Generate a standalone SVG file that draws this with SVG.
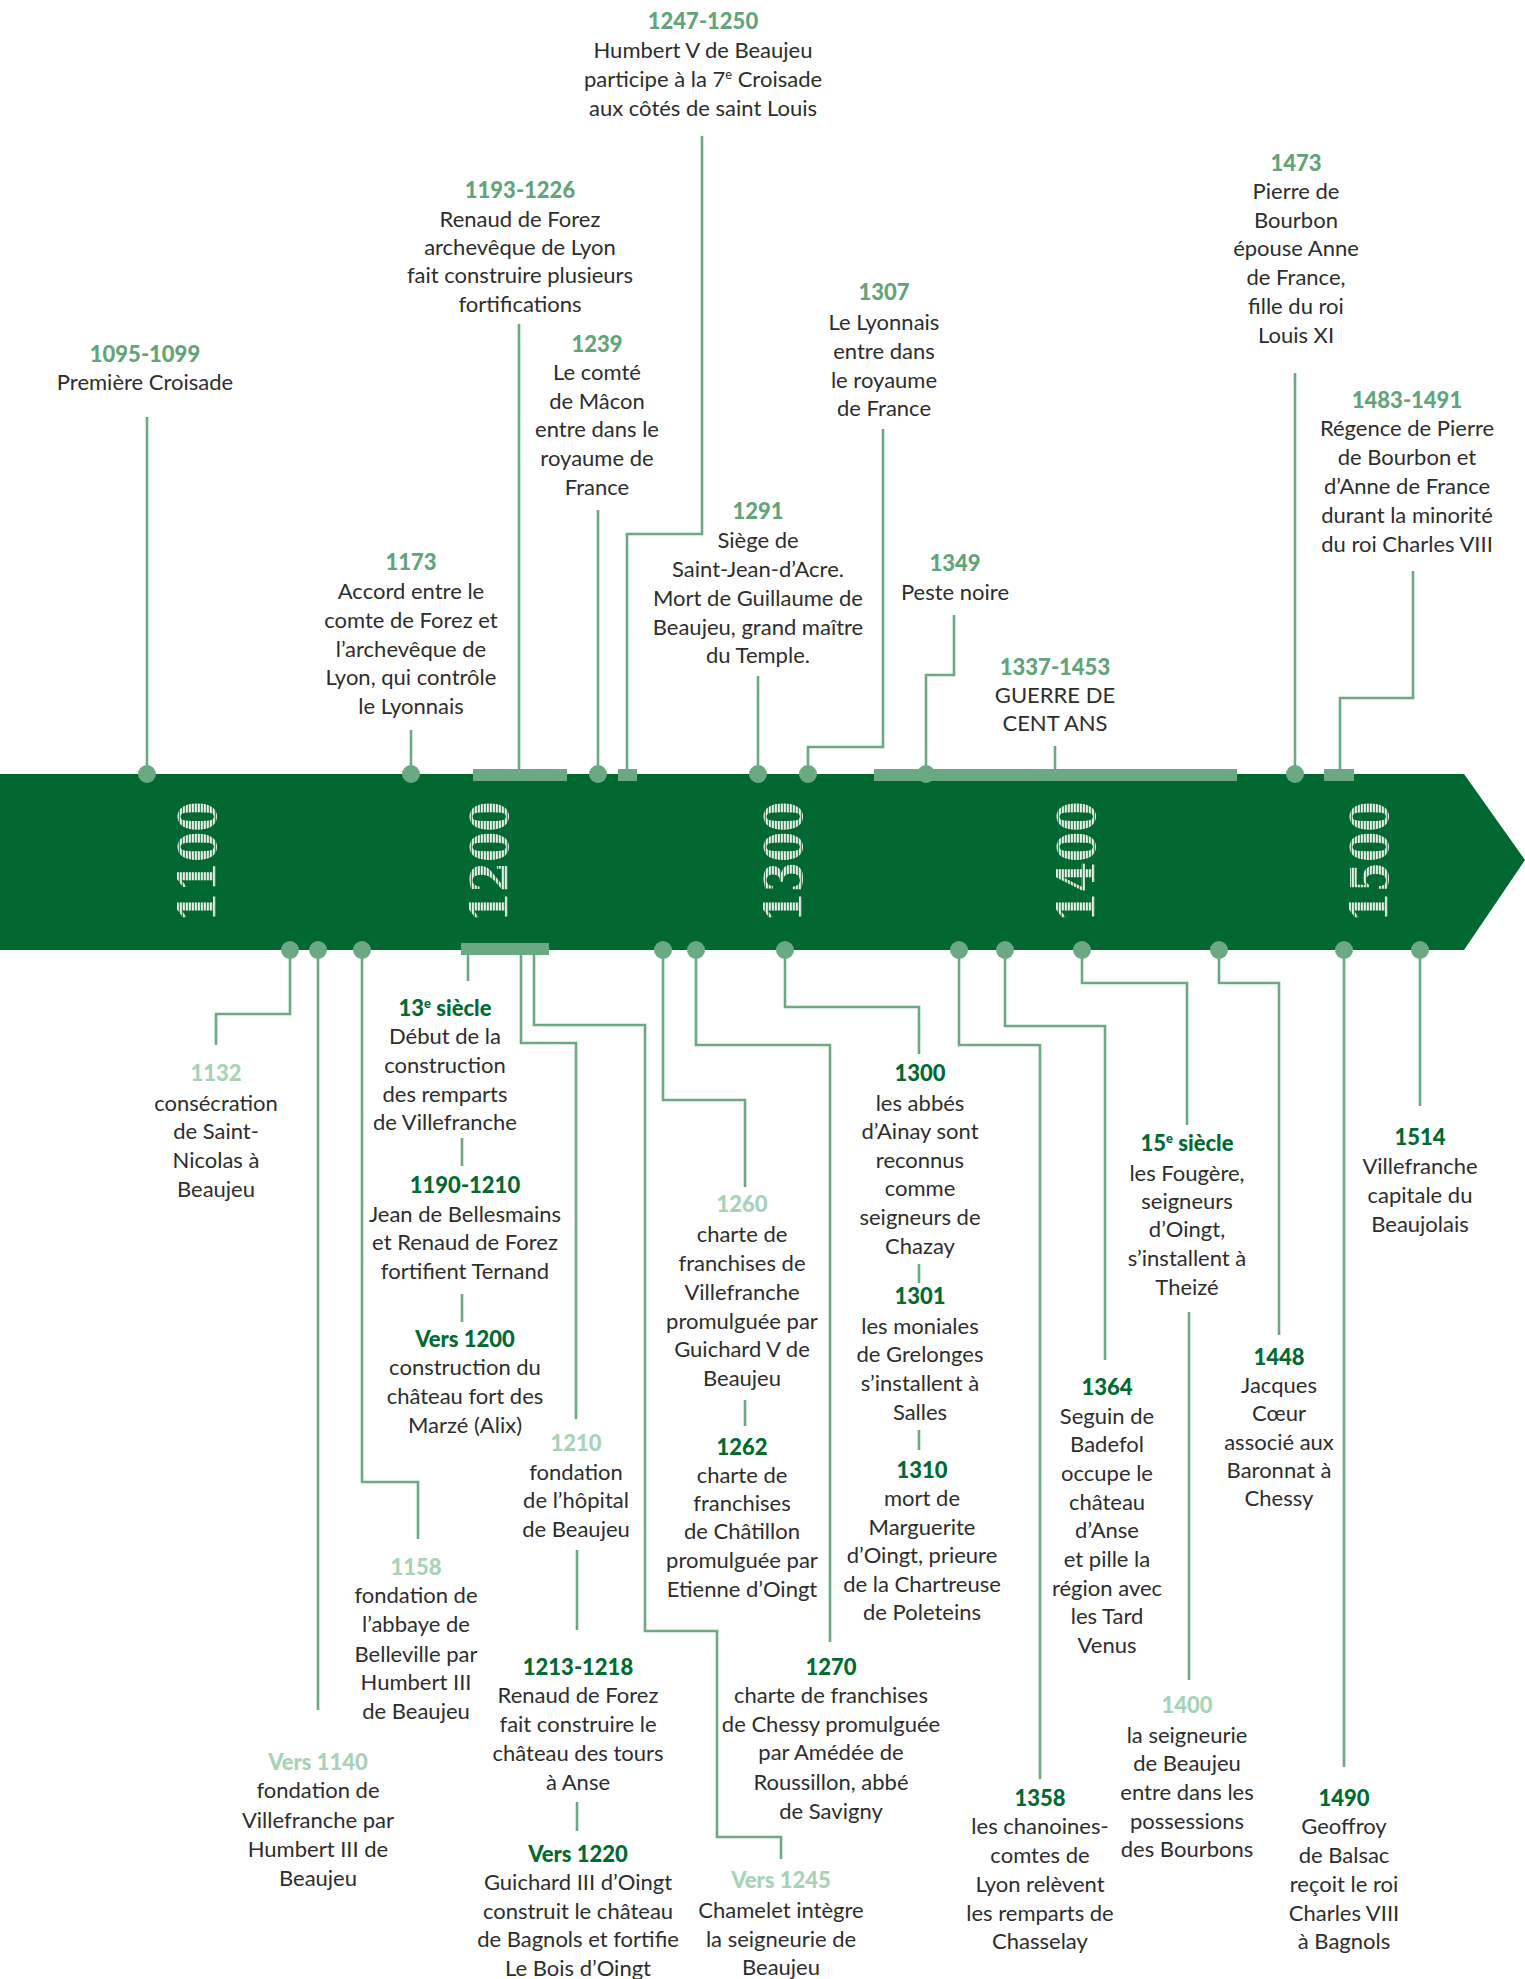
<svg xmlns="http://www.w3.org/2000/svg" width="1525" height="1979" viewBox="0 0 1525 1979">
<defs>
<pattern id="hatch" width="3" height="3" patternUnits="userSpaceOnUse"><rect width="3" height="3" fill="#e9f1eb"/><rect y="1.8" width="3" height="1.2" fill="#3f8a5c"/></pattern>
<style>
.t{font-family:Lato,"Source Sans Pro","Liberation Sans",sans-serif;font-size:22px;fill:#2d2d2d;text-anchor:middle}
.yu{font-weight:900;fill:#62a47a}
.yd{font-weight:900;fill:#006a31}
.yl{font-weight:900;fill:#a8d2b6}
.sup{font-size:13px}
.ln{fill:none;stroke:#6aa982;stroke-width:2.6}
.dot{fill:#6aa982}
.bar{fill:#6aa982}
.cent{font-family:"DejaVu Serif","Liberation Serif",serif;font-weight:bold;font-size:53px;fill:url(#hatch);text-anchor:middle}
</style>
</defs>
<rect width="1525" height="1979" fill="#ffffff"/>
<g id="band">
<polygon points="0,774 1464,774 1525,860 1464,950 0,950" fill="#006830"/>
<text class="cent" transform="translate(216,862) rotate(-90)" textLength="121" lengthAdjust="spacingAndGlyphs">1100</text>
<text class="cent" transform="translate(508,862) rotate(-90)" textLength="121" lengthAdjust="spacingAndGlyphs">1200</text>
<text class="cent" transform="translate(802,862) rotate(-90)" textLength="121" lengthAdjust="spacingAndGlyphs">1300</text>
<text class="cent" transform="translate(1095,862) rotate(-90)" textLength="121" lengthAdjust="spacingAndGlyphs">1400</text>
<text class="cent" transform="translate(1388,862) rotate(-90)" textLength="121" lengthAdjust="spacingAndGlyphs">1500</text>
</g>
<g id="connectors">
<path class="ln" d="M147 417V774"/>
<path class="ln" d="M411 730V774"/>
<path class="ln" d="M519 324V770"/>
<path class="ln" d="M598 510V774"/>
<path class="ln" d="M702 136V534H627V770"/>
<path class="ln" d="M758 676V774"/>
<path class="ln" d="M883 429V747H808V774"/>
<path class="ln" d="M954 615V675H926V774"/>
<path class="ln" d="M1055 746V770"/>
<path class="ln" d="M1295 373V774"/>
<path class="ln" d="M1413 571V698H1340V770"/>
<path class="ln" d="M290 950V1014H216V1045"/>
<path class="ln" d="M318 950V1710"/>
<path class="ln" d="M362 950V1482H418V1539"/>
<path class="ln" d="M468 954V981"/>
<path class="ln" d="M462 1138V1166"/>
<path class="ln" d="M462 1294V1322"/>
<path class="ln" d="M521 954V1043H576V1419"/>
<path class="ln" d="M577 1550V1630"/>
<path class="ln" d="M577 1802V1831"/>
<path class="ln" d="M534 954V1025H645V1631H717V1837H781V1859"/>
<path class="ln" d="M663 950V1100H745V1187"/>
<path class="ln" d="M745 1400V1426"/>
<path class="ln" d="M696 950V1045H830V1642"/>
<path class="ln" d="M785 950V1007H919V1054"/>
<path class="ln" d="M919 1264V1283"/>
<path class="ln" d="M919 1430V1450"/>
<path class="ln" d="M959 950V1045H1040V1779"/>
<path class="ln" d="M1005 950V1026H1105V1360"/>
<path class="ln" d="M1082 950V983H1187V1125"/>
<path class="ln" d="M1189 1312V1680"/>
<path class="ln" d="M1219 950V983H1279V1335"/>
<path class="ln" d="M1344 950V1767"/>
<path class="ln" d="M1420 950V1106"/>
</g>
<g id="markers">
<rect class="bar" x="473" y="769" width="94" height="12"/>
<rect class="bar" x="618" y="769" width="19" height="12"/>
<rect class="bar" x="874" y="769" width="363" height="12"/>
<rect class="bar" x="1324" y="769" width="30" height="12"/>
<rect class="bar" x="461" y="943" width="88" height="12"/>
<circle class="dot" cx="147" cy="774" r="9"/>
<circle class="dot" cx="411" cy="774" r="9"/>
<circle class="dot" cx="598" cy="774" r="9"/>
<circle class="dot" cx="758" cy="774" r="9"/>
<circle class="dot" cx="808" cy="774" r="9"/>
<circle class="dot" cx="926" cy="774" r="9"/>
<circle class="dot" cx="1295" cy="774" r="9"/>
<circle class="dot" cx="290" cy="950" r="9"/>
<circle class="dot" cx="318" cy="950" r="9"/>
<circle class="dot" cx="362" cy="950" r="9"/>
<circle class="dot" cx="663" cy="950" r="9"/>
<circle class="dot" cx="696" cy="950" r="9"/>
<circle class="dot" cx="785" cy="950" r="9"/>
<circle class="dot" cx="959" cy="950" r="9"/>
<circle class="dot" cx="1005" cy="950" r="9"/>
<circle class="dot" cx="1082" cy="950" r="9"/>
<circle class="dot" cx="1219" cy="950" r="9"/>
<circle class="dot" cx="1344" cy="950" r="9"/>
<circle class="dot" cx="1420" cy="950" r="9"/>
</g>
<g id="e1095"><text class="t"><tspan class="yu" x="145" y="362">1095-1099</tspan><tspan x="145" y="390">Première Croisade</tspan></text></g>
<g id="e1173"><text class="t"><tspan class="yu" x="411" y="570">1173</tspan><tspan x="411" y="599">Accord entre le</tspan><tspan x="411" y="628">comte de Forez et</tspan><tspan x="411" y="657">l’archevêque de</tspan><tspan x="411" y="685">Lyon, qui contrôle</tspan><tspan x="411" y="714">le Lyonnais</tspan></text></g>
<g id="e1193"><text class="t"><tspan class="yu" x="520" y="198">1193-1226</tspan><tspan x="520" y="227">Renaud de Forez</tspan><tspan x="520" y="255">archevêque de Lyon</tspan><tspan x="520" y="283">fait construire plusieurs</tspan><tspan x="520" y="312">fortifications</tspan></text></g>
<g id="e1239"><text class="t"><tspan class="yu" x="597" y="352">1239</tspan><tspan x="597" y="380">Le comté</tspan><tspan x="597" y="409">de Mâcon</tspan><tspan x="597" y="437">entre dans le</tspan><tspan x="597" y="466">royaume de</tspan><tspan x="597" y="495">France</tspan></text></g>
<g id="e1247"><text class="t"><tspan class="yu" x="703" y="29">1247-1250</tspan><tspan x="703" y="58">Humbert V de Beaujeu</tspan><tspan x="703" y="87">participe à la 7<tspan class="sup" dy="-8">e</tspan><tspan dy="8"> Croisade</tspan></tspan><tspan x="703" y="116">aux côtés de saint Louis</tspan></text></g>
<g id="e1291"><text class="t"><tspan class="yu" x="758" y="519">1291</tspan><tspan x="758" y="548">Siège de</tspan><tspan x="758" y="577">Saint-Jean-d’Acre.</tspan><tspan x="758" y="606">Mort de Guillaume de</tspan><tspan x="758" y="635">Beaujeu, grand maître</tspan><tspan x="758" y="663">du Temple.</tspan></text></g>
<g id="e1307"><text class="t"><tspan class="yu" x="884" y="300">1307</tspan><tspan x="884" y="330">Le Lyonnais</tspan><tspan x="884" y="359">entre dans</tspan><tspan x="884" y="388">le royaume</tspan><tspan x="884" y="416">de France</tspan></text></g>
<g id="e1349"><text class="t"><tspan class="yu" x="955" y="571">1349</tspan><tspan x="955" y="600">Peste noire</tspan></text></g>
<g id="e1337"><text class="t"><tspan class="yu" x="1055" y="675">1337-1453</tspan><tspan x="1055" y="703">GUERRE DE</tspan><tspan x="1055" y="731">CENT ANS</tspan></text></g>
<g id="e1473"><text class="t"><tspan class="yu" x="1296" y="171">1473</tspan><tspan x="1296" y="199">Pierre de</tspan><tspan x="1296" y="228">Bourbon</tspan><tspan x="1296" y="256">épouse Anne</tspan><tspan x="1296" y="285">de France,</tspan><tspan x="1296" y="314">fille du roi</tspan><tspan x="1296" y="343">Louis XI</tspan></text></g>
<g id="e1483"><text class="t"><tspan class="yu" x="1407" y="408">1483-1491</tspan><tspan x="1407" y="436">Régence de Pierre</tspan><tspan x="1407" y="465">de Bourbon et</tspan><tspan x="1407" y="494">d’Anne de France</tspan><tspan x="1407" y="523">durant la minorité</tspan><tspan x="1407" y="552">du roi Charles VIII</tspan></text></g>
<g id="e1132"><text class="t"><tspan class="yl" x="216" y="1081">1132</tspan><tspan x="216" y="1111">consécration</tspan><tspan x="216" y="1139">de Saint-</tspan><tspan x="216" y="1168">Nicolas à</tspan><tspan x="216" y="1197">Beaujeu</tspan></text></g>
<g id="e1140"><text class="t"><tspan class="yl" x="318" y="1770">Vers 1140</tspan><tspan x="318" y="1798">fondation de</tspan><tspan x="318" y="1828">Villefranche par</tspan><tspan x="318" y="1857">Humbert III de</tspan><tspan x="318" y="1886">Beaujeu</tspan></text></g>
<g id="e1158"><text class="t"><tspan class="yl" x="416" y="1575">1158</tspan><tspan x="416" y="1603">fondation de</tspan><tspan x="416" y="1632">l’abbaye de</tspan><tspan x="416" y="1662">Belleville par</tspan><tspan x="416" y="1690">Humbert III</tspan><tspan x="416" y="1719">de Beaujeu</tspan></text></g>
<g id="e13s"><text class="t"><tspan class="yd" x="445" y="1016">13<tspan class="sup" dy="-8">e</tspan><tspan dy="8"> siècle</tspan></tspan><tspan x="445" y="1044">Début de la</tspan><tspan x="445" y="1073">construction</tspan><tspan x="445" y="1102">des remparts</tspan><tspan x="445" y="1130">de Villefranche</tspan></text></g>
<g id="e1190"><text class="t"><tspan class="yd" x="465" y="1193">1190-1210</tspan><tspan x="465" y="1222">Jean de Bellesmains</tspan><tspan x="465" y="1250">et Renaud de Forez</tspan><tspan x="465" y="1279">fortifient Ternand</tspan></text></g>
<g id="e1200"><text class="t"><tspan class="yd" x="465" y="1347">Vers 1200</tspan><tspan x="465" y="1375">construction du</tspan><tspan x="465" y="1404">château fort des</tspan><tspan x="465" y="1433">Marzé (Alix)</tspan></text></g>
<g id="e1210"><text class="t"><tspan class="yl" x="576" y="1451">1210</tspan><tspan x="576" y="1480">fondation</tspan><tspan x="576" y="1508">de l’hôpital</tspan><tspan x="576" y="1537">de Beaujeu</tspan></text></g>
<g id="e1213"><text class="t"><tspan class="yd" x="578" y="1675">1213-1218</tspan><tspan x="578" y="1703">Renaud de Forez</tspan><tspan x="578" y="1732">fait construire le</tspan><tspan x="578" y="1761">château des tours</tspan><tspan x="578" y="1790">à Anse</tspan></text></g>
<g id="e1220"><text class="t"><tspan class="yd" x="578" y="1862">Vers 1220</tspan><tspan x="578" y="1890">Guichard III d’Oingt</tspan><tspan x="578" y="1919">construit le château</tspan><tspan x="578" y="1947">de Bagnols et fortifie</tspan><tspan x="578" y="1976">Le Bois d’Oingt</tspan></text></g>
<g id="e1245"><text class="t"><tspan class="yl" x="781" y="1888">Vers 1245</tspan><tspan x="781" y="1918">Chamelet intègre</tspan><tspan x="781" y="1947">la seigneurie de</tspan><tspan x="781" y="1975">Beaujeu</tspan></text></g>
<g id="e1260"><text class="t"><tspan class="yl" x="742" y="1212">1260</tspan><tspan x="742" y="1242">charte de</tspan><tspan x="742" y="1271">franchises de</tspan><tspan x="742" y="1300">Villefranche</tspan><tspan x="742" y="1329">promulguée par</tspan><tspan x="742" y="1357">Guichard V de</tspan><tspan x="742" y="1386">Beaujeu</tspan></text></g>
<g id="e1262"><text class="t"><tspan class="yd" x="742" y="1455">1262</tspan><tspan x="742" y="1483">charte de</tspan><tspan x="742" y="1511">franchises</tspan><tspan x="742" y="1539">de Châtillon</tspan><tspan x="742" y="1568">promulguée par</tspan><tspan x="742" y="1597">Etienne d’Oingt</tspan></text></g>
<g id="e1270"><text class="t"><tspan class="yd" x="831" y="1675">1270</tspan><tspan x="831" y="1703">charte de franchises</tspan><tspan x="831" y="1732">de Chessy promulguée</tspan><tspan x="831" y="1760">par Amédée de</tspan><tspan x="831" y="1790">Roussillon, abbé</tspan><tspan x="831" y="1819">de Savigny</tspan></text></g>
<g id="e1300"><text class="t"><tspan class="yd" x="920" y="1081">1300</tspan><tspan x="920" y="1111">les abbés</tspan><tspan x="920" y="1139">d’Ainay sont</tspan><tspan x="920" y="1168">reconnus</tspan><tspan x="920" y="1196">comme</tspan><tspan x="920" y="1225">seigneurs de</tspan><tspan x="920" y="1254">Chazay</tspan></text></g>
<g id="e1301"><text class="t"><tspan class="yd" x="920" y="1304">1301</tspan><tspan x="920" y="1334">les moniales</tspan><tspan x="920" y="1362">de Grelonges</tspan><tspan x="920" y="1391">s’installent à</tspan><tspan x="920" y="1420">Salles</tspan></text></g>
<g id="e1310"><text class="t"><tspan class="yd" x="922" y="1478">1310</tspan><tspan x="922" y="1506">mort de</tspan><tspan x="922" y="1535">Marguerite</tspan><tspan x="922" y="1563">d’Oingt, prieure</tspan><tspan x="922" y="1592">de la Chartreuse</tspan><tspan x="922" y="1620">de Poleteins</tspan></text></g>
<g id="e1358"><text class="t"><tspan class="yd" x="1040" y="1806">1358</tspan><tspan x="1040" y="1834">les chanoines-</tspan><tspan x="1040" y="1863">comtes de</tspan><tspan x="1040" y="1892">Lyon relèvent</tspan><tspan x="1040" y="1921">les remparts de</tspan><tspan x="1040" y="1949">Chasselay</tspan></text></g>
<g id="e1364"><text class="t"><tspan class="yd" x="1107" y="1395">1364</tspan><tspan x="1107" y="1424">Seguin de</tspan><tspan x="1107" y="1452">Badefol</tspan><tspan x="1107" y="1481">occupe le</tspan><tspan x="1107" y="1510">château</tspan><tspan x="1107" y="1538">d’Anse</tspan><tspan x="1107" y="1567">et pille la</tspan><tspan x="1107" y="1596">région avec</tspan><tspan x="1107" y="1624">les Tard</tspan><tspan x="1107" y="1653">Venus</tspan></text></g>
<g id="e15s"><text class="t"><tspan class="yd" x="1187" y="1151">15<tspan class="sup" dy="-8">e</tspan><tspan dy="8"> siècle</tspan></tspan><tspan x="1187" y="1181">les Fougère,</tspan><tspan x="1187" y="1209">seigneurs</tspan><tspan x="1187" y="1237">d’Oingt,</tspan><tspan x="1187" y="1266">s’installent à</tspan><tspan x="1187" y="1295">Theizé</tspan></text></g>
<g id="e1400"><text class="t"><tspan class="yl" x="1187" y="1713">1400</tspan><tspan x="1187" y="1743">la seigneurie</tspan><tspan x="1187" y="1771">de Beaujeu</tspan><tspan x="1187" y="1800">entre dans les</tspan><tspan x="1187" y="1829">possessions</tspan><tspan x="1187" y="1857">des Bourbons</tspan></text></g>
<g id="e1448"><text class="t"><tspan class="yd" x="1279" y="1365">1448</tspan><tspan x="1279" y="1393">Jacques</tspan><tspan x="1279" y="1421">Cœur</tspan><tspan x="1279" y="1450">associé aux</tspan><tspan x="1279" y="1478">Baronnat à</tspan><tspan x="1279" y="1506">Chessy</tspan></text></g>
<g id="e1490"><text class="t"><tspan class="yd" x="1344" y="1806">1490</tspan><tspan x="1344" y="1834">Geoffroy</tspan><tspan x="1344" y="1863">de Balsac</tspan><tspan x="1344" y="1892">reçoit le roi</tspan><tspan x="1344" y="1921">Charles VIII</tspan><tspan x="1344" y="1949">à Bagnols</tspan></text></g>
<g id="e1514"><text class="t"><tspan class="yd" x="1420" y="1145">1514</tspan><tspan x="1420" y="1174">Villefranche</tspan><tspan x="1420" y="1203">capitale du</tspan><tspan x="1420" y="1232">Beaujolais</tspan></text></g>
</svg>
